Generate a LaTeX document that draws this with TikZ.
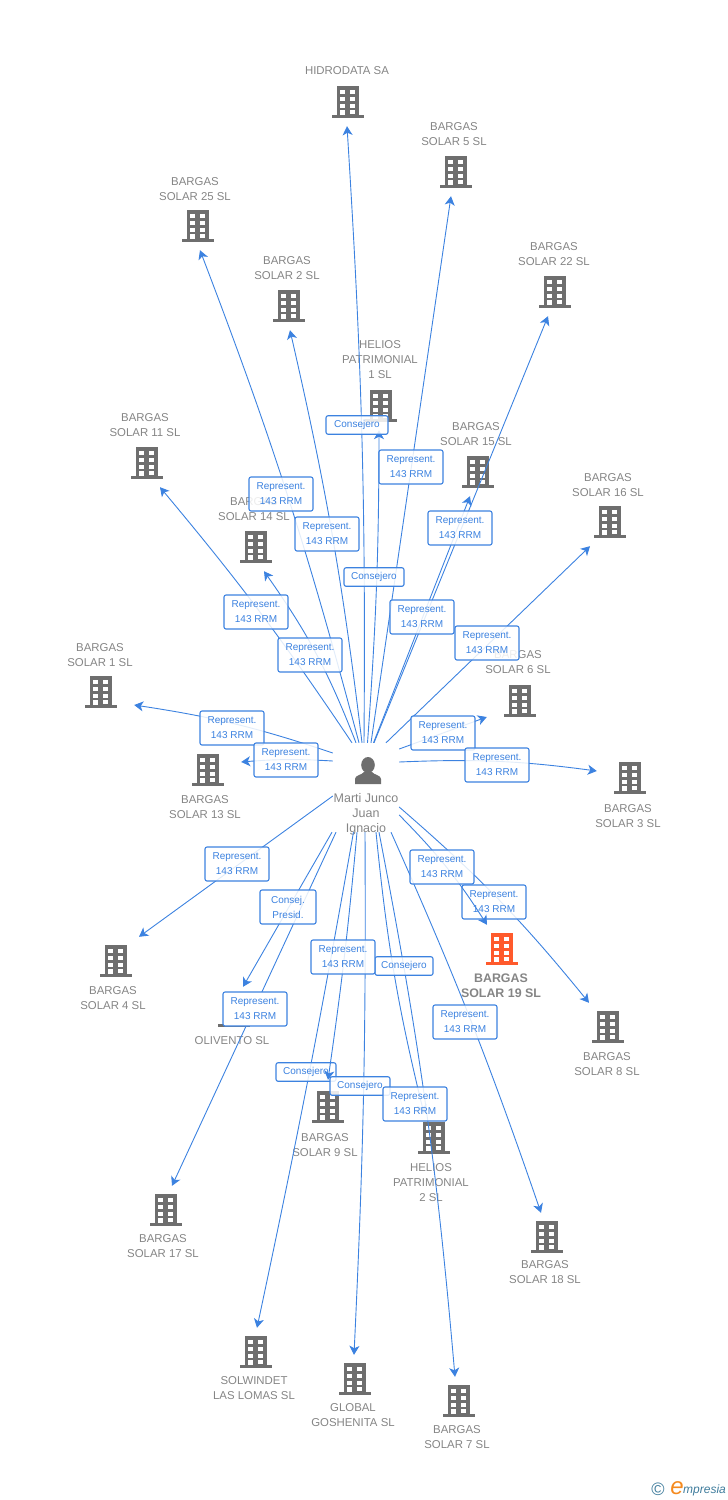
\documentclass[tikz,border=0pt]{standalone}
\usepackage{fontspec}
\setmainfont{Liberation Sans}
\usetikzlibrary{arrows.meta}

\definecolor{iconGrey}{HTML}{6E6E6E}
\definecolor{iconOrange}{HTML}{FF5A2C}
\definecolor{labelGrey}{HTML}{858585}
\definecolor{linkBlue}{HTML}{3C82E0}
\definecolor{logoTeal}{HTML}{3F7C9C}
\definecolor{logoOrange}{HTML}{F58A1F}

\newcommand{\buildingicon}[1]{
  \begin{scope}[shift={(path picture bounding box.center)}]
    \fill[#1] (-11,-16) rectangle (11,14);
    \fill[#1] (-16,13) rectangle (16,16);
    \foreach \wy in {-12,-5.5,1.5} {
      \fill[white] (-8,\wy) rectangle (-3,\wy+4);
      \fill[white] (2,\wy) rectangle (7,\wy+4);
    }
    \fill[white] (2,8) rectangle (7,12);
    \fill[white] (-8,8) rectangle (-3,13);
  \end{scope}
}

\tikzset{
  building/.style={minimum width=66pt, minimum height=48pt, inner sep=0pt, path picture={\buildingicon{iconGrey}}},
  buildingsel/.style={minimum width=66pt, minimum height=48pt, inner sep=0pt, path picture={\buildingicon{iconOrange}}},
  person/.style={minimum width=66pt, minimum height=89pt, inner sep=0pt, path picture={
    \begin{scope}[shift={(path picture bounding box.center)}]
      \fill[iconGrey] (2,-22.5) ellipse (6.8 and 8);
      \fill[iconGrey] (-11,-3.5) -- (-11,-8.5) .. controls (-11,-12.5) and (-4,-12.5) .. (-2,-15.5) -- (6,-15.5) .. controls (8,-12.5) and (15,-12.5) .. (15,-8.5) -- (15,-3.5) -- cycle;
    \end{scope}}},
  lbl/.style={text=labelGrey, font=\fontsize{11.4}{15}\selectfont, align=center, inner sep=0pt},
  link/.style={linkBlue, line width=0.9pt, -{Stealth[length=9pt, width=10pt, inset=2.5pt]}},
  relbox/.style={draw=linkBlue, line width=1.1pt, fill=white, fill opacity=0.85, text opacity=1, rounded corners=2pt, text=linkBlue,
    font=\fontsize{10}{15}\selectfont, align=center, inner sep=0pt},
  repbox/.style={relbox, minimum width=64pt, minimum height=34pt},
  conbox/.style={relbox, minimum width=60pt, minimum height=18.5pt}
}

\begin{document}
\begin{tikzpicture}[x=1pt, y=-1pt]
  \useasboundingbox (0,0) rectangle (728,1500);

  % Draw the buildings
  \node[building] (hidrodata) at (348,102) {};
  \node[building] (solar5) at (456,172) {};
  \node[building] (solar25) at (198,226) {};
  \node[building] (solar2) at (289,306) {};
  \node[building] (solar22) at (555,292) {};
  \node[building] (helios1) at (381,406) {};
  \node[building] (solar11) at (147,463) {};
  \node[building] (solar15) at (478,472) {};
  \node[building] (solar16) at (610,522) {};
  \node[building] (solar14) at (256,547) {};
  \node[building] (solar6) at (520,701) {};
  \node[building] (solar1) at (101,692) {};
  \node[building] (solar13) at (208,770) {};
  \node[building] (solar3) at (630,778) {};
  \node[building] (solar4) at (116,961) {};
  \node[buildingsel] (solar19) at (502,949) {};
  \node[building] (olivento) at (234,1011) {};
  \node[building] (solar8) at (608,1027) {};
  \node[building] (solar9) at (328,1107) {};
  \node[building] (helios2) at (434,1138) {};
  \node[building] (solar17) at (166,1210) {};
  \node[building] (solar18) at (547,1237) {};
  \node[building] (solwindet) at (256,1352) {};
  \node[building] (goshenita) at (355,1379) {};
  \node[building] (solar7) at (459,1401) {};
  \node[person] (marti) at (366,787.5) {};

  % Draw the names
  \node[lbl] (thidrodata) at (347,71) {HIDRODATA SA};
  \node[lbl] (tsolar5) at (454,134) {BARGAS\\SOLAR 5 SL};
  \node[lbl] (tsolar25) at (195,189) {BARGAS\\SOLAR 25 SL};
  \node[lbl] (tsolar2) at (287,268) {BARGAS\\SOLAR 2 SL};
  \node[lbl] (tsolar22) at (554,254) {BARGAS\\SOLAR 22 SL};
  \node[lbl] (thelios1) at (380,360) {HELIOS\\PATRIMONIAL\\1 SL};
  \node[lbl] (tsolar11) at (145,425) {BARGAS\\SOLAR 11 SL};
  \node[lbl] (tsolar15) at (476,434) {BARGAS\\SOLAR 15 SL};
  \node[lbl] (tsolar16) at (608,485) {BARGAS\\SOLAR 16 SL};
  \node[lbl] (tsolar14) at (254,509) {BARGAS\\SOLAR 14 SL};
  \node[lbl] (tsolar6) at (518,662) {BARGAS\\SOLAR 6 SL};
  \node[lbl] (tsolar1) at (100,655) {BARGAS\\SOLAR 1 SL};
  \node[lbl] (tsolar13) at (205,807) {BARGAS\\SOLAR 13 SL};
  \node[lbl] (tsolar3) at (628,816) {BARGAS\\SOLAR 3 SL};
  \node[lbl, font=\fontsize{12.5}{15}\selectfont] (tmarti) at (366,814) {Marti Junco\\Juan\\Ignacio};
  \node[lbl] (tsolar4) at (113,998) {BARGAS\\SOLAR 4 SL};
  \node[lbl, font=\fontsize{12.4}{15}\selectfont\bfseries] (tsolar19) at (501,986) {BARGAS\\SOLAR 19 SL};
  \node[lbl] (tolivento) at (232,1041) {OLIVENTO SL};
  \node[lbl] (tsolar8) at (607,1064) {BARGAS\\SOLAR 8 SL};
  \node[lbl] (tsolar9) at (325,1145) {BARGAS\\SOLAR 9 SL};
  \node[lbl] (thelios2) at (431,1183) {HELIOS\\PATRIMONIAL\\2 SL};
  \node[lbl] (tsolar17) at (163,1246) {BARGAS\\SOLAR 17 SL};
  \node[lbl] (tsolar18) at (545,1272) {BARGAS\\SOLAR 18 SL};
  \node[lbl] (tsolwindet) at (254,1388) {SOLWINDET\\LAS LOMAS SL};
  \node[lbl] (tgoshenita) at (353,1415) {GLOBAL\\GOSHENITA SL};
  \node[lbl] (tsolar7) at (457,1437) {BARGAS\\SOLAR 7 SL};

  % Draw the edges
  \draw[link] ([xshift=-14pt]marti.north) to[bend right=3] ([xshift=13pt]solar11.south);
  \draw[link] ([xshift=-10pt]marti.north) to[bend right=7] ([xshift=8pt]solar14.south);
  \draw[link] ([xshift=-7pt]marti.north) to[bend right=3] ([xshift=2pt]solar25.south);
  \draw[link] ([xshift=-4pt]marti.north) to[bend right=3] ([xshift=1pt]solar2.south);
  \draw[link] ([xshift=-2pt]marti.north) to[bend right=2] ([xshift=-1pt]hidrodata.south);
  \draw[link] ([xshift=1.5pt]marti.north) to[bend right=2] ([xshift=-2pt]helios1.south);
  \draw[link] ([xshift=5pt]marti.north) -- ([xshift=-5pt]solar5.south);
  \draw[link] ([xshift=7.5pt]marti.north) -- ([xshift=-8pt]solar15.south);
  \draw[link] ([xshift=8pt]marti.north) -- ([xshift=-7pt]solar22.south);
  \draw[link] ([xshift=20pt]marti.north) -- ([xshift=-20pt]solar16.south);
  \draw[link] ([yshift=34.5pt]marti.west) to[bend right=5] ([yshift=-13pt]solar1.east);
  \draw[link] ([yshift=26.5pt]marti.west) to[bend right=4] ([yshift=8pt]solar13.east);
  \draw[link] ([yshift=38.5pt]marti.east) -- ([yshift=-16pt]solar6.west);
  \draw[link] ([yshift=25.5pt]marti.east) to[bend left=5] ([yshift=7pt]solar3.west);
  \draw[link] ([yshift=-8.5pt]marti.west) -- ([xshift=23pt]solar4.north);
  \draw[link] ([yshift=-19.5pt]marti.east) to[bend left=5] ([xshift=-19pt]solar8.north);
  \draw[link] ([xshift=-34pt]marti.south) -- ([xshift=9pt]olivento.north);
  \draw[link] ([xshift=-30pt]marti.south) -- ([xshift=6pt]solar17.north);
  \draw[link] ([xshift=-12.5pt]marti.south) to[bend left=1] ([xshift=1pt]solwindet.north);
  \draw[link] ([xshift=-1pt]marti.south) to[bend left=1.5] ([xshift=-1pt]goshenita.north);
  \draw[link] ([xshift=10pt]marti.south) to[bend right=4] ([xshift=-10pt]helios2.north);
  \draw[link] ([xshift=13pt]marti.south) to[bend left=3] ([xshift=-4pt]solar7.north);
  \draw[link] ([xshift=25pt]marti.south) to[bend left=2.5] ([xshift=-6pt]solar18.north);

  % Draw the relation boxes
  \node[conbox, minimum width=62pt] (rel1) at (357,425) {Consejero};
  \node[repbox] (rel2) at (411,467) {Represent.\\143 RRM};
  \node[repbox] (rel3) at (281,494) {Represent.\\143 RRM};
  \node[repbox] (rel4) at (460,528) {Represent.\\143 RRM};
  \node[repbox] (rel5) at (327,534) {Represent.\\143 RRM};
  \node[conbox] (rel6) at (374,577) {Consejero};
  \node[repbox] (rel7) at (256,612) {Represent.\\143 RRM};
  \node[repbox] (rel8) at (422,617) {Represent.\\143 RRM};
  \node[repbox] (rel9) at (310,655) {Represent.\\143 RRM};
  \node[repbox] (rel10) at (487,643) {Represent.\\143 RRM};
  \node[repbox] (rel11) at (232,728) {Represent.\\143 RRM};
  \node[repbox] (rel12) at (286,760) {Represent.\\143 RRM};
  \node[repbox] (rel13) at (443,733) {Represent.\\143 RRM};
  \node[repbox] (rel14) at (497,765) {Represent.\\143 RRM};
  \node[repbox] (rel15) at (237,864) {Represent.\\143 RRM};
  \node[repbox, minimum width=56pt] (rel16) at (288,907) {Consej.\\Presid.};
  \node[repbox] (rel18) at (494,902) {Represent.\\143 RRM};
  \draw[link] ([yshift=-27.5pt]marti.east) to[bend left=6] ([xshift=-15pt]solar19.north);
  \node[repbox] (rel17) at (442,867) {Represent.\\143 RRM};
  \node[conbox, minimum width=58pt] (rel19) at (404,966) {Consejero};
  \node[repbox, fill opacity=1] (rel21) at (255,1009) {Represent.\\143 RRM};
  \node[repbox] (rel22) at (465,1022) {Represent.\\143 RRM};
  \node[conbox] (rel23) at (306,1072) {Consejero};
  \draw[link] ([xshift=-9pt]marti.south) to[bend left=1.5] ([yshift=3pt]solar9.north);
  \node[repbox] (rel20) at (343,957) {Represent.\\143 RRM};
  \node[conbox] (rel24) at (360,1086) {Consejero};
  \node[repbox] (rel25) at (415,1104) {Represent.\\143 RRM};

  % Draw the logo
  \node[text=logoTeal, font=\fontsize{18}{18}\selectfont, inner sep=0pt] (logoc) at (658,1489) {©};
  \node[text=logoOrange, font=\fontsize{24}{24}\selectfont\itshape, inner sep=0pt] (logoe) at (677,1488) {e};
  \node[text=logoTeal, font=\fontsize{12}{12}\selectfont\itshape, inner sep=0pt, anchor=west] (logot) at (683,1490) {mpresia};
\end{tikzpicture}
\end{document}
